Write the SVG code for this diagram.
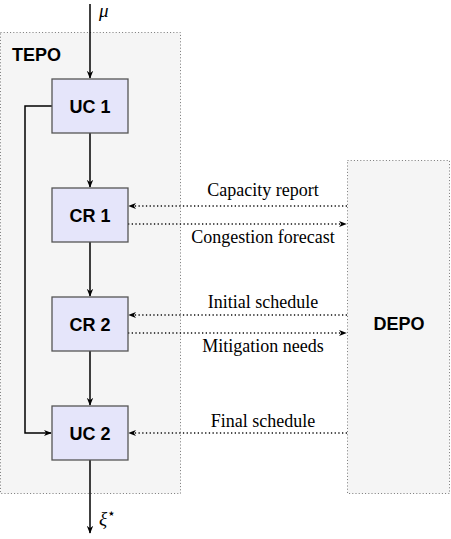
<svg xmlns="http://www.w3.org/2000/svg" width="451" height="539" viewBox="0 0 451 539">
<defs>
<style>
.area{fill:#f5f5f5;stroke:#777;stroke-width:1;stroke-dasharray:1 2.2}
.node rect{fill:#e5e5fa;stroke:#555;stroke-width:1.3}
.node text,.lbl{font-family:"Liberation Sans",Arial,sans-serif;font-weight:bold;font-size:18px;fill:#000}
.node text{text-anchor:middle}
.solid{fill:none;stroke:#000;stroke-width:1.5}
.dot{fill:none;stroke:#111;stroke-width:1.4;stroke-dasharray:1.3 2.4}
.elbl{font-family:"Liberation Serif","Times New Roman",serif;font-size:18px;fill:#000;text-anchor:middle}
.math{font-family:"Liberation Serif","Times New Roman",serif;font-style:italic;font-size:19px;fill:#000}
</style>
<marker id="ah" viewBox="0 0 10 10" refX="9" refY="5" markerWidth="8" markerHeight="8" markerUnits="userSpaceOnUse" orient="auto">
<path d="M0,1 L10,5 L0,9 L3,5 Z" fill="#000"/>
</marker>
</defs>
<g id="TEPO">
<rect class="area" x="0.5" y="32.5" width="180" height="461"/>
<text class="lbl" x="12" y="61">TEPO</text>
</g>
<g id="DEPO">
<rect class="area" x="347.5" y="160.5" width="102" height="333"/>
<text class="lbl" x="399" y="330" text-anchor="middle">DEPO</text>
</g>
<g id="connectors">
<line class="solid" x1="90" y1="4" x2="90" y2="78" marker-end="url(#ah)"/>
<line class="solid" x1="90" y1="133" x2="90" y2="187" marker-end="url(#ah)"/>
<line class="solid" x1="90" y1="242" x2="90" y2="296" marker-end="url(#ah)"/>
<line class="solid" x1="90" y1="351" x2="90" y2="405" marker-end="url(#ah)"/>
<line class="solid" x1="90" y1="460" x2="90" y2="533" marker-end="url(#ah)"/>
<polyline class="solid" points="52,106 25,106 25,433 51,433" marker-end="url(#ah)"/>
<line class="dot" x1="347" y1="206" x2="129" y2="206" marker-end="url(#ah)"/>
<line class="dot" x1="128" y1="224" x2="346" y2="224" marker-end="url(#ah)"/>
<line class="dot" x1="347" y1="315" x2="129" y2="315" marker-end="url(#ah)"/>
<line class="dot" x1="128" y1="333" x2="346" y2="333" marker-end="url(#ah)"/>
<line class="dot" x1="347" y1="433" x2="129" y2="433" marker-end="url(#ah)"/>
<text class="elbl" x="263" y="196">Capacity report</text>
<text class="elbl" x="263" y="243">Congestion forecast</text>
<text class="elbl" x="263" y="308">Initial schedule</text>
<text class="elbl" x="263" y="352">Mitigation needs</text>
<text class="elbl" x="263" y="427">Final schedule</text>
<text class="math" x="99" y="17">μ</text>
<text class="math" x="99" y="525">ξ<tspan font-style="normal" font-size="14" dy="-7">⋆</tspan></text>
</g>
<g id="UC1" class="node"><rect x="52" y="79" width="76" height="54"/><text x="90" y="113">UC 1</text></g>
<g id="CR1" class="node"><rect x="52" y="188" width="76" height="54"/><text x="90" y="222">CR 1</text></g>
<g id="CR2" class="node"><rect x="52" y="297" width="76" height="54"/><text x="90" y="331">CR 2</text></g>
<g id="UC2" class="node"><rect x="52" y="406" width="76" height="54"/><text x="90" y="440">UC 2</text></g>
</svg>
